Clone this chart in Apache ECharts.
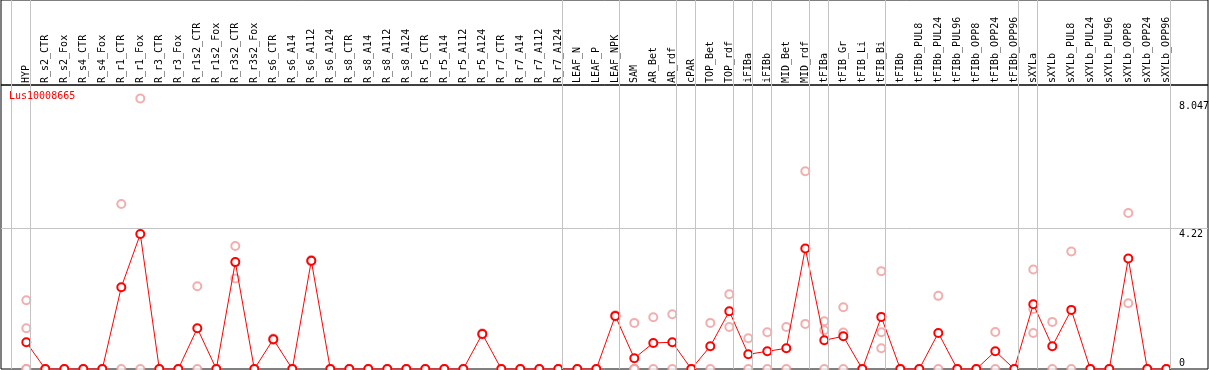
<!DOCTYPE html>
<html lang="en" style="height: 100%">
<head>
<meta charset="utf-8">
<title>Lus10008665</title>
</head>
<body style="height: 100%; margin: 0">
<div id="container" style="height: 100%"></div>

<script type="text/javascript" src="https://cdn.jsdelivr.net/npm/echarts/dist/echarts.min.js"></script>

<script type="text/javascript">
var dom = document.getElementById('container');
var myChart = echarts.init(dom, null, { renderer: 'canvas' });

// sample names (x axis)
var categories = [
    'HYP', 'R_s2_CTR', 'R_s2_Fox', 'R_s4_CTR', 'R_s4_Fox', 'R_r1_CTR', 'R_r1_Fox',
    'R_r3_CTR', 'R_r3_Fox', 'R_r1s2_CTR', 'R_r1s2_Fox', 'R_r3s2_CTR', 'R_r3s2_Fox',
    'R_s6_CTR', 'R_s6_A14', 'R_s6_A112', 'R_s6_A124', 'R_s8_CTR', 'R_s8_A14', 'R_s8_A112',
    'R_s8_A124', 'R_r5_CTR', 'R_r5_A14', 'R_r5_A112', 'R_r5_A124', 'R_r7_CTR', 'R_r7_A14',
    'R_r7_A112', 'R_r7_A124', 'LEAF_N', 'LEAF_P', 'LEAF_NPK', 'SAM', 'AR_Bet', 'AR_rdf',
    'cPAR', 'TOP_Bet', 'TOP_rdf', 'iFIBa', 'iFIBb', 'MID_Bet', 'MID_rdf', 'tFIBa',
    'tFIB_Gr', 'tFIB_Li', 'tFIB_Bi', 'tFIBb', 'tFIBb_PUL8', 'tFIBb_PUL24', 'tFIBb_PUL96',
    'tFIBb_OPP8', 'tFIBb_OPP24', 'tFIBb_OPP96', 'sXYLa', 'sXYLb', 'sXYLb_PUL8',
    'sXYLb_PUL24', 'sXYLb_PUL96', 'sXYLb_OPP8', 'sXYLb_OPP24', 'sXYLb_OPP96'
];

// mean expression per sample
var meanValues = [
    0.80, 0, 0, 0, 0, 2.45, 4.04, 0, 0, 1.22, 0, 3.20, 0,
    0.89, 0, 3.24, 0, 0, 0, 0, 0, 0, 0, 0, 1.05, 0, 0, 0, 0,
    0, 0, 1.59, 0.32, 0.78, 0.80, 0, 0.68, 1.73, 0.44, 0.53, 0.62, 3.61,
    0.86, 0.98, 0, 1.56, 0, 0, 1.08, 0, 0, 0.53, 0,
    1.94, 0.68, 1.77, 0, 0, 3.31, 0, 0
];

// individual replicates per sample
var replicates = [
    [2.06, 1.22, 0, 0], [0, 0], [0, 0], [0, 0], [0, 0], [4.94, 0], [8.1, 0],
    [0, 0], [0, 0], [2.48, 0], [0, 0], [3.68, 2.71], [0, 0],
    [0.91, 0.87], [0, 0], [3.26, 3.22], [0, 0], [0, 0], [0, 0], [0, 0],
    [0, 0], [0, 0], [0, 0], [0, 0], [1.07, 1.03], [0, 0], [0, 0],
    [0, 0], [0, 0], [0, 0], [0, 0], [1.61, 1.57], [1.38, 0, 0, 0], [1.55, 0], [1.64, 0],
    [0, 0], [1.38, 0], [2.24, 1.26], [0.92, 0], [1.10, 0], [1.26, 0], [5.92, 1.35],
    [1.43, 1.16, 0], [1.85, 1.09, 0], [0, 0], [2.93, 1.10, 0.62], [0, 0], [0, 0],
    [2.19, 0], [0, 0], [0, 0], [1.11, 0], [0, 0],
    [2.98, 1.80, 1.08], [1.41, 0], [3.52, 0], [0, 0], [0, 0], [4.67, 1.97], [0, 0], [0, 0]
];

// last sample index of each group (separator drawn after it)
var groupEnds = [-1, 0, 28, 31, 34, 35, 37, 38, 39, 41, 42, 45, 52, 53, 60];

var yLabels = [0, 4.22, 8.047];
var refLineValue = 4.22;

var mono = 'DejaVu Sans Mono';
var xMin = -1.332, xMax = 62.195;

var meanData = meanValues.map(function (v, i) { return [i, v]; });
var repData = [];
replicates.forEach(function (r, i) {
    r.forEach(function (v) { repData.push([i, v]); });
});
var sepLines = groupEnds.map(function (k) { return { xAxis: k + 0.22 }; });

function sepSeries(gridIdx) {
    return {
        type: 'line',
        xAxisIndex: gridIdx,
        yAxisIndex: gridIdx,
        data: [],
        z: 1,
        silent: true,
        markLine: {
            silent: true,
            symbol: ['none', 'none'],
            label: { show: false },
            lineStyle: { color: '#c4c4c4', width: 1, type: 'solid' },
            data: sepLines
        }
    };
}

var option = {
    animation: false,
    title: {
        text: 'Lus10008665',
        left: 9,
        top: 91,
        padding: 0,
        textStyle: { color: '#ff0000', fontSize: 10, fontFamily: mono, fontWeight: 'normal' }
    },
    grid: [
        { left: 1, right: 1, top: 0, height: 85, show: true, borderColor: '#000', borderWidth: 1,
          backgroundColor: 'transparent', outerBoundsMode: 'none' },
        { left: 1, right: 1, top: 85, bottom: 1, show: true, borderColor: '#000', borderWidth: 1,
          backgroundColor: 'transparent', outerBoundsMode: 'none' }
    ],
    xAxis: [
        { type: 'value', gridIndex: 0, min: xMin, max: xMax, show: false },
        {
            type: 'value', gridIndex: 1, min: xMin, max: xMax, position: 'top',
            axisLine: { show: false },
            axisTick: { show: false },
            splitLine: { show: false },
            axisLabel: {
                customValues: categories.map(function (c, i) { return i; }),
                formatter: function (v) { return categories[Math.round(v)]; },
                rotate: 90,
                margin: 2,
                hideOverlap: false,
                color: '#000',
                fontSize: 10,
                fontFamily: mono
            }
        }
    ],
    yAxis: [
        { type: 'value', gridIndex: 0, min: 0, max: 1, show: false },
        {
            type: 'value', gridIndex: 1, min: 0, max: 8.503, position: 'right',
            axisLine: { show: false },
            axisTick: { show: false },
            splitLine: { show: false },
            axisLabel: {
                customValues: yLabels,
                inside: true,
                margin: 29,
                align: 'left',
                verticalAlign: 'middle',
                formatter: function (v) {
                    return v === 0 ? '{b|0}' : '{t|' + v + '}';
                },
                rich: {
                    t: { padding: [12, 0, 0, 0], color: '#000', fontSize: 10, fontFamily: mono },
                    b: { padding: [0, 0, 12, 0], color: '#000', fontSize: 10, fontFamily: mono }
                }
            }
        }
    ],
    series: [
        sepSeries(0),
        sepSeries(1),
        {
            type: 'line',
            xAxisIndex: 1,
            yAxisIndex: 1,
            data: [],
            z: 1,
            silent: true,
            markLine: {
                silent: true,
                symbol: ['none', 'none'],
                label: { show: false },
                lineStyle: { color: '#c4c4c4', width: 1, type: 'solid' },
                data: [{ yAxis: refLineValue }]
            }
        },
        {
            name: 'replicates',
            type: 'scatter',
            xAxisIndex: 1,
            yAxisIndex: 1,
            data: repData,
            symbol: 'emptyCircle',
            symbolSize: 8,
            z: 2,
            itemStyle: { color: '#ef9a9a', borderWidth: 1.2 }
        },
        {
            name: 'mean',
            type: 'line',
            xAxisIndex: 1,
            yAxisIndex: 1,
            data: meanData,
            symbol: 'emptyCircle',
            symbolSize: 8,
            showAllSymbol: true,
            z: 3,
            lineStyle: { color: '#ff0000', width: 1 },
            itemStyle: { color: '#ff0000', borderWidth: 1.5 }
        }
    ]
};

if (option && typeof option === 'object') {
    myChart.setOption(option);
}

window.addEventListener('resize', myChart.resize);
</script>
</body>
</html>
